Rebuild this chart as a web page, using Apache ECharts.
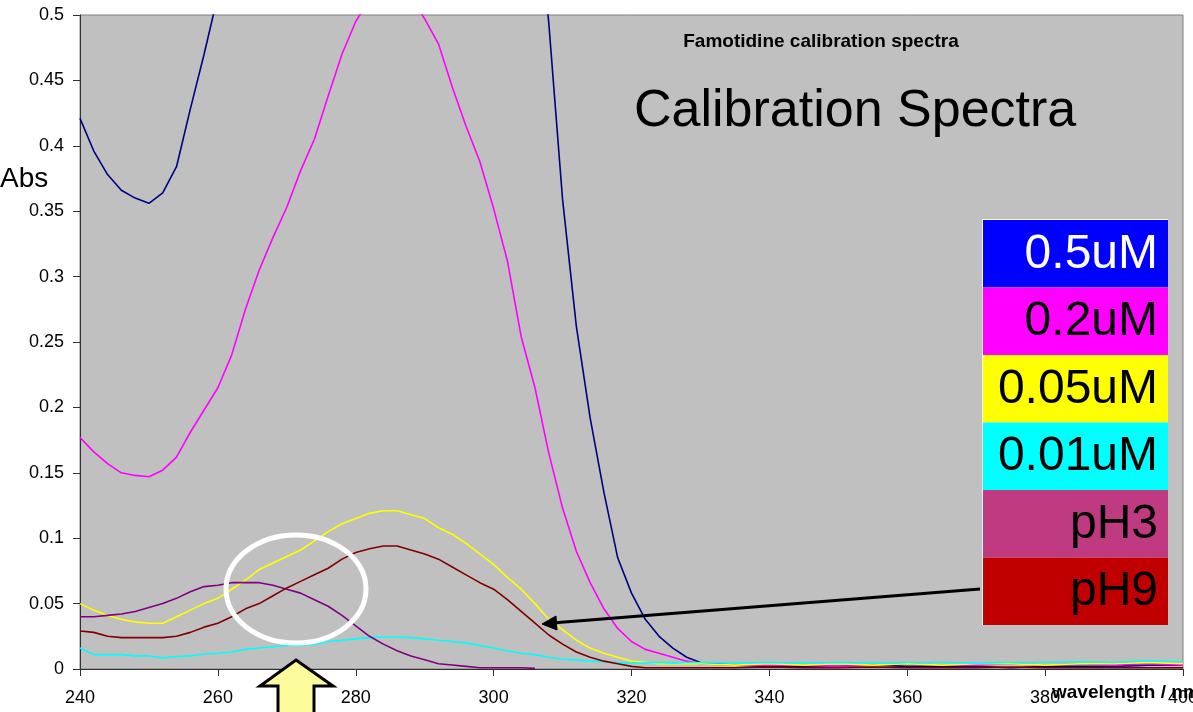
<!DOCTYPE html>
<html>
<head>
<meta charset="utf-8">
<script src="https://cdn.jsdelivr.net/npm/echarts@6/dist/echarts.min.js"></script>
<style>
html,body{margin:0;padding:0;background:#ffffff;overflow:hidden;}
#chart{width:1193px;height:712px;}
</style>
</head>
<body>
<div id="chart"></div>
<script>
// wavelengths (nm)
var wavelengths = [240,242,244,246,248,250,252,254,256,258,260,262,264,266,268,270,272,274,276,278,280,282,284,286,288,290,292,294,296,298,300,302,304,306,308,310,312,314,316,318,320,322,324,326,328,330,335,340,345,350,355,360,365,370,375,380,385,390,395,400];

var abs05uM = [0.421,0.396,0.378,0.366,0.360,0.356,0.364,0.384,0.428,0.470,0.515,0.58,0.66,0.74,0.82,0.89,0.96,1.03,1.10,1.17,1.22,1.26,1.28,1.28,1.26,1.22,1.17,1.10,1.03,0.95,0.87,0.78,0.69,0.60,0.494,0.359,0.262,0.192,0.135,0.085,0.058,0.038,0.025,0.016,0.009,0.005,0.003,0.002,0.002,0.002,0.003,0.002,0.002,0.002,0.001,0.002,0.002,0.002,0.003,0.003];

var abs02uM = [0.177,0.166,0.157,0.150,0.148,0.147,0.152,0.162,0.181,0.198,0.215,0.240,0.275,0.305,0.330,0.353,0.381,0.405,0.438,0.470,0.495,0.512,0.522,0.523,0.514,0.497,0.478,0.445,0.415,0.388,0.352,0.312,0.254,0.215,0.165,0.123,0.090,0.066,0.046,0.031,0.021,0.015,0.012,0.009,0.006,0.004,0.003,0.003,0.003,0.002,0.003,0.004,0.003,0.003,0.004,0.003,0.004,0.003,0.004,0.003];

var abs005uM = [0.050,0.045,0.041,0.038,0.036,0.035,0.035,0.040,0.045,0.050,0.054,0.061,0.068,0.076,0.081,0.086,0.091,0.098,0.105,0.111,0.115,0.119,0.121,0.121,0.118,0.115,0.108,0.103,0.096,0.088,0.080,0.070,0.061,0.050,0.038,0.030,0.022,0.016,0.012,0.009,0.006,0.005,0.004,0.004,0.004,0.004,0.003,0.004,0.003,0.004,0.003,0.004,0.003,0.004,0.004,0.003,0.004,0.004,0.005,0.004];

var abs001uM = [0.016,0.011,0.011,0.011,0.010,0.010,0.0085,0.0095,0.010,0.0115,0.012,0.013,0.015,0.016,0.017,0.018,0.018,0.019,0.021,0.022,0.023,0.024,0.0245,0.0245,0.024,0.023,0.022,0.021,0.020,0.018,0.016,0.014,0.012,0.011,0.009,0.0075,0.007,0.006,0.0055,0.005,0.0045,0.0045,0.005,0.0045,0.005,0.005,0.0045,0.005,0.0045,0.005,0.0045,0.005,0.005,0.0045,0.005,0.005,0.0055,0.005,0.0063,0.0055];

var absPH3 = [0.040,0.040,0.041,0.042,0.044,0.047,0.050,0.054,0.059,0.063,0.064,0.066,0.066,0.066,0.064,0.061,0.058,0.053,0.048,0.041,0.033,0.025,0.019,0.014,0.010,0.007,0.004,0.003,0.002,0.001,0.001,0.001,0.001,0.0005,null,null,null,null,null,null,null,null,null,null,null,null,null,null,null,null,null,null,null,null,null,null,null,null,null,null];

var absPH9 = [0.029,0.028,0.025,0.024,0.024,0.024,0.024,0.025,0.028,0.032,0.035,0.040,0.046,0.050,0.056,0.062,0.067,0.072,0.077,0.084,0.089,0.092,0.094,0.094,0.091,0.088,0.084,0.078,0.072,0.066,0.061,0.053,0.044,0.035,0.026,0.019,0.013,0.009,0.006,0.004,0.002,0.001,0.001,0.001,0.001,0.001,0.001,0.0015,0.001,0.001,0.0015,0.001,0.001,0.001,0.0015,0.001,0.001,0.001,0.001,0.001];

var seriesNames = ['0.5uM','0.2uM','0.05uM','0.01uM','pH3','pH9'];
var seriesValues = [abs05uM, abs02uM, abs005uM, abs001uM, absPH3, absPH9];
var lineColors = ['#000080','#ff00ff','#ffff00','#00ffff','#800080','#800000'];
var legendColors = ['#0000ff','#ff00ff','#ffff00','#00ffff','#bf3a80','#c00000'];
var legendTextColors = ['#ffffff','#000000','#000000','#000000','#000000','#000000'];

var FONT = '"Liberation Sans", Arial, sans-serif';

function pairs(vals){
  return wavelengths.map(function(w,i){ return [w, vals[i]]; });
}

var series = seriesNames.map(function(n,i){
  return {
    name: n, type: 'line', data: pairs(seriesValues[i]),
    showSymbol: false, symbol: 'none', smooth: false, clip: true,
    lineStyle: {color: lineColors[i], width: 1.6},
    itemStyle: {color: lineColors[i]},
    connectNulls: false, animation: false
  };
});

// legend blocks
var legendX = 983, legendY = 220, legendW = 185, rowH = 67.5;
var graphics = [];
graphics.push({type:'rect', shape:{x:legendX-1, y:legendY-1, width:legendW+1, height:rowH*6+1}, style:{fill:'#ffffff'}, z:100});
seriesNames.forEach(function(n,i){
  graphics.push({type:'rect', shape:{x:legendX, y:legendY+rowH*i, width:legendW, height:rowH}, style:{fill:legendColors[i]}, z:101});
  graphics.push({type:'text', x:1158, y:legendY+rowH*i+rowH/2+1, style:{text:n, fill:legendTextColors[i], font:'48px '+FONT, textAlign:'right', textVerticalAlign:'middle'}, z:102});
});

// titles and labels
graphics.push({type:'text', x:821, y:42, style:{text:'Famotidine calibration spectra', fill:'#000', font:'bold 19px '+FONT, textAlign:'center', textVerticalAlign:'middle'}, z:100});
graphics.push({type:'text', x:634, y:112, style:{text:'Calibration Spectra', fill:'#000', font:'52px '+FONT, textAlign:'left', textVerticalAlign:'middle'}, z:100});
graphics.push({type:'text', x:0, y:179, style:{text:'Abs', fill:'#000', font:'28px '+FONT, textAlign:'left', textVerticalAlign:'middle'}, z:100});
graphics.push({type:'text', x:1052, y:693, style:{text:'wavelength / nm', fill:'#000', font:'bold 19px '+FONT, textAlign:'left', textVerticalAlign:'middle'}, z:100});

// white ellipse annotation
graphics.push({type:'ellipse', shape:{cx:296, cy:589, rx:70, ry:54}, style:{fill:null, stroke:'#ffffff', lineWidth:5}, z:110});

// yellow up-arrow
graphics.push({type:'polygon', shape:{points:[[296,660],[333,686],[314,686],[314,720],[278,720],[278,686],[260,686]]}, style:{fill:'#fcfc9c', stroke:'#000000', lineWidth:3}, z:110});

// black arrow pointing at curves
graphics.push({type:'line', shape:{x1:980, y1:589, x2:552, y2:623}, style:{stroke:'#000000', lineWidth:3}, z:110});
graphics.push({type:'polygon', shape:{points:[[542,624],[556,616],[557,630]]}, style:{fill:'#000000', stroke:'#000000', lineWidth:1}, z:110});

var chart = echarts.init(document.getElementById('chart'), null, {renderer:'canvas'});
chart.setOption({
  animation: false,
  backgroundColor: '#ffffff',
  grid: {left:80, top:15, right:10, bottom:43, containLabel:false, outerBoundsMode:'none', show:true, backgroundColor:'#c0c0c0', borderColor:'#808080', borderWidth:1},
  xAxis: {
    type:'value', min:240, max:400, interval:20,
    axisLine:{show:true, onZero:false, lineStyle:{color:'#303030', width:1}},
    axisTick:{show:true, inside:false, length:7, lineStyle:{color:'#303030'}},
    axisLabel:{color:'#000', fontSize:18, fontFamily:FONT, margin:20},
    splitLine:{show:false}
  },
  yAxis: {
    type:'value', min:0, max:0.5, interval:0.05,
    axisLine:{show:true, lineStyle:{color:'#303030', width:1}},
    axisTick:{show:true, inside:false, length:7, lineStyle:{color:'#303030'}},
    axisLabel:{color:'#000', fontSize:18, fontFamily:FONT, margin:16},
    splitLine:{show:false}
  },
  series: series,
  graphic: graphics
});
</script>
</body>
</html>
